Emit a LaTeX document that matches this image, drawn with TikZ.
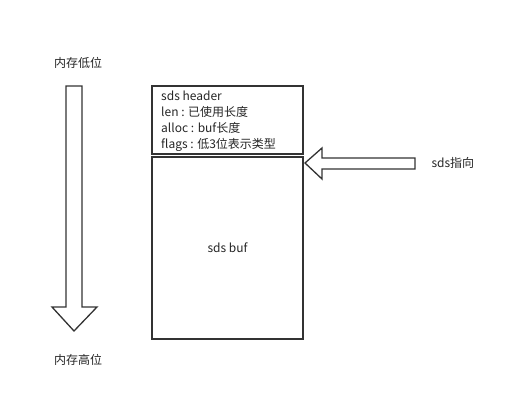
\documentclass[tikz,border=0pt]{standalone}
\usepackage{fontspec}
\setmainfont{Noto Sans CJK SC}
\usetikzlibrary{positioning}
\definecolor{linegray}{HTML}{333333}
\tikzset{
  membox/.style={draw=linegray, line width=1.4pt, rectangle, inner sep=0pt},
  blockarrow/.style={draw=linegray, line width=1.3pt, fill=white, line join=miter},
  lbl/.style={font=\fontsize{12}{16}\selectfont, text=black!85}
}
\begin{document}
\begin{tikzpicture}[x=1pt, y=-1pt]
        \useasboundingbox (0,0) rectangle (513,406);

        % memory direction arrow on the left
        \draw[blockarrow] (66,86) -- (82,86) -- (82,307) -- (97,307) -- (74,331)
            -- (52,307) -- (66,307) -- cycle;
        \node[lbl] (low) at (78,63) {内存低位};
        \node[lbl] (high) at (78,360) {内存高位};

        % header and buffer
        \node[membox, minimum width=151pt, minimum height=68pt] (header) at (227.5,120) {};
        \node[lbl, align=left, anchor=north west, inner sep=0pt]
            (fields) at (161,90.5) {sds header\\len : 已使用长度\\alloc : buf长度\\flags : 低3位表示类型};
        \node[membox, minimum width=151pt, minimum height=182pt] (buf) at (227.5,248) {};
        \node[lbl] (buflbl) at (buf.center) {sds buf};

        % pointer arrow
        \coordinate (tip) at (305,163);
        \draw[blockarrow] (tip) -- (322,148) -- (322,158) -- (415,158) -- (415,169)
            -- (322,169) -- (322,179) -- cycle;
        \node[lbl, anchor=west] (ptr) at (428,163) {sds指向};
\end{tikzpicture}
\end{document}
